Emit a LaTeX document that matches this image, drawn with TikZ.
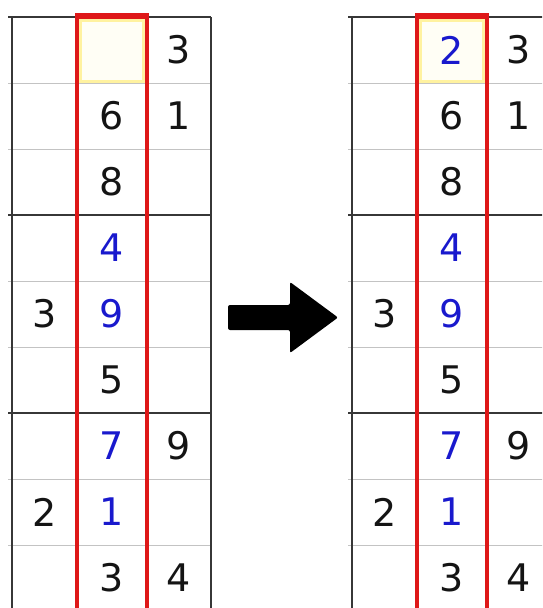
\documentclass[tikz,border=0pt]{standalone}
\usepackage{fontspec}
\setmainfont{DejaVu Sans}
\usetikzlibrary{positioning}

\definecolor{givenblk}{RGB}{20,20,20}
\definecolor{solvedblu}{RGB}{25,25,205}
\definecolor{boxred}{RGB}{222,24,24}
\definecolor{linegray}{RGB}{195,195,195}
\definecolor{boxgray}{RGB}{55,55,55}
\definecolor{pickyel}{RGB}{255,242,160}

\begin{document}
\begin{tikzpicture}[x=1pt, y=-1pt,
    digit/.style={inner sep=0pt, font=\fontsize{38}{40}\selectfont},
    given/.style={digit, text=givenblk},
    solved/.style={digit, text=solvedblu},
    gridthin/.style={draw=linegray, line width=1pt},
    gridthick/.style={draw=boxgray, line width=1.8pt},
    colmark/.style={draw=boxred, line width=4pt},
    pick/.style={draw=pickyel, fill=yellow!4, line width=3pt}
  ]
  \clip (0,0) rectangle (542,608);

  % two copies of the same column, before and after
  \foreach \ox/\p in {0/L,340/R} {
    \foreach \y in {83,149,281,347,479,545}
      \draw[gridthin] (\ox+8,\y) -- (\ox+211,\y);
    \foreach \x in {77,147}
      \draw[gridthin] (\ox+\x,17) -- (\ox+\x,612);
    \foreach \y in {17,215,413}
      \draw[gridthick] (\ox+8,\y) -- (\ox+211,\y);
    \foreach \x in {12,211}
      \draw[gridthick] (\ox+\x,17) -- (\ox+\x,612);
    \draw[pick] (\ox+80.5,20) rectangle (\ox+143.5,81.5);
    \draw[colmark] (\ox+77,16) rectangle (\ox+147,620);
    \draw[colmark, line width=6pt] (\ox+75,16) -- (\ox+149,16);
    \foreach \r/\c/\d/\s in {1/3/3/given, 2/2/6/given, 2/3/1/given,
        3/2/8/given, 4/2/4/solved, 5/1/3/given, 5/2/9/solved,
        6/2/5/given, 7/2/7/solved, 7/3/9/given, 8/1/2/given,
        8/2/1/solved, 9/2/3/given, 9/3/4/given}
      \node[\s] (\p\r\c) at (\ox-22+67*\c, -16+66*\r) {\d};
  }
  \node[solved] (R12) at (452,50) {2};

  % big arrow between the two
  \fill[rounded corners=2pt] (228,305) -- (290,305) -- (290,282) -- (338,317.5)
    -- (290,353) -- (290,330) -- (228,330) -- cycle;
\end{tikzpicture}
\end{document}
